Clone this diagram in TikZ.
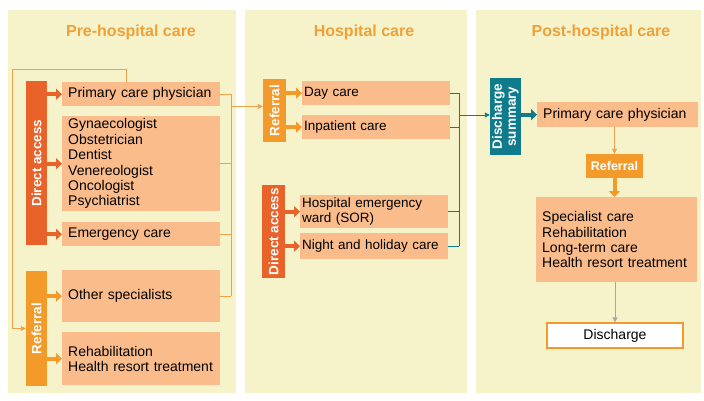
\documentclass[tikz,border=0pt]{standalone}
\usepackage{fontspec}
\setmainfont{Liberation Sans}
\usepackage{xcolor}
\usepackage{tikz}
\usetikzlibrary{arrows.meta}

\definecolor{panelfill}{HTML}{F6F3CB}
\definecolor{boxfill}{HTML}{FBBC8C}
\definecolor{titleorange}{HTML}{EFA139}
\definecolor{accessred}{HTML}{E8622A}
\definecolor{referorange}{HTML}{F39A2A}
\definecolor{summteal}{HTML}{0F7B8B}
\definecolor{linkorange}{HTML}{EDA24A}

\begin{document}
\begin{tikzpicture}[x=1pt,y=-1pt,
                    panel/.style={fill=panelfill},
                    title/.style={text=titleorange,font=\fontsize{16}{18}\selectfont\bfseries},
                    box/.style n args={2}{fill=boxfill,anchor=north west,
                    text width=#1,minimum height=#2,
                    inner xsep=6pt,inner ysep=0pt,align=left,
                    font=\fontsize{14}{15.4}\selectfont},
                    hbox/.style n args={2}{box={#1}{#2},inner xsep=2pt,
                    font=\fontsize{13.5}{14.5}\selectfont},
                    bar/.style n args={3}{fill=#1,text=white,rotate=90,
                    minimum width=#2,minimum height=#3,
                    inner sep=0pt,align=center,
                    font=\fontsize{13.5}{14}\selectfont\bfseries},
                    fat/.style={#1,line width=4pt,
                    -{Triangle[width=11pt,length=6pt]}},
                    link/.style={#1,line width=0.9pt}]
    \useasboundingbox (0,0) rectangle (704,400);

    % panels
    \fill[panel] (8,10) rectangle (236,393);
    \fill[panel] (245,10) rectangle (467,393);
    \fill[panel] (476,10) rectangle (701,393);
    \node[title](tpre) at (131,32) {Pre-hospital care};
    \node[title](thosp) at (364,32) {Hospital care};
    \node[title](tpost) at (601,32) {Post-hospital care};

    % pre-hospital care
    \node[bar={accessred}{164}{21}](dabar) at (36.5,163) {Direct access};
    \node[bar={referorange}{115}{21}](refbar) at (36.5,328.5) {Referral};
    \node[box={146pt}{24pt}](pcp) at (62,82) {Primary care physician};
    \node[box={146pt}{95pt}](spec) at (62,116) {Gynaecologist\\Obstetrician\\Dentist\\Venereologist\\Oncologist\\Psychiatrist};
    \node[box={146pt}{24pt}](emerg) at (62,222) {Emergency care};
    \node[box={146pt}{52pt}](other) at (62,270) {Other specialists};
    \node[box={146pt}{53pt}](rehab) at (62,332) {Rehabilitation\\Health resort treatment};
    \foreach \n in {pcp,spec,emerg}
        \draw[fat=accessred] (dabar.south |- \n.west) -- (\n.west);
    \foreach \n in {other,rehab}
        \draw[fat=referorange] (refbar.south |- \n.west) -- (\n.west);
    \coordinate (loop) at (12.5,69);
    \draw[link=linkorange,-{Triangle[width=5pt,length=5pt]}]
        ([xshift=-15pt]pcp.north) |- (loop) |- (refbar.north);
    \coordinate (brkpre) at (231,0);
    \foreach \n in {pcp,spec,emerg,other}
        \draw[link=linkorange] (\n.east) -- (\n.east -| brkpre);
    \draw[link=linkorange] (pcp.east -| brkpre) -- (other.east -| brkpre);

    % hospital care
    \node[bar={referorange}{63}{23}](hrefbar) at (274.5,110.5) {Referral};
    \node[bar={accessred}{93}{23}](hdabar) at (273.5,231.5) {Direct access};
    \node[hbox={144pt}{24pt}](day) at (302,81) {Day care};
    \node[hbox={144pt}{24pt}](inpat) at (302,115) {Inpatient care};
    \node[hbox={144pt}{33pt}](sor) at (300,195) {Hospital emergency\\ward (SOR)};
    \node[hbox={144pt}{26pt}](night) at (300,233) {Night and holiday care};
    \draw[link=linkorange,-{Triangle[width=5pt,length=5pt]}]
        (pcp.south -| brkpre) -- (pcp.south -| hrefbar.north);
    \foreach \n in {day,inpat}
        \draw[fat=referorange] (hrefbar.south |- \n.west) -- (\n.west);
    \foreach \n in {sor,night}
        \draw[fat=accessred] (hdabar.south |- \n.west) -- (\n.west);
    \coordinate (brkhosp) at (459,0);
    \foreach \n in {day,inpat,sor,night}
        \draw[link=summteal] (\n.east) -- (\n.east -| brkhosp);
    \draw[link=summteal] (day.east -| brkhosp) -- (night.east -| brkhosp);

    % post-hospital care
    \node[bar={summteal}{77}{31}](dsbar) at (505.5,116.5) {Discharge\\summary};
    \draw[link=summteal,-{Triangle[width=5pt,length=5pt]}]
        (inpat.north -| brkhosp) -- (inpat.north -| dsbar.north);
    \node[box={149pt}{25pt}](ppcp) at (537,102) {Primary care physician};
    \node[fill=referorange,text=white,minimum width=57pt,minimum height=24pt,
          inner sep=0pt,font=\fontsize{12.5}{14}\selectfont\bfseries](pref) at (614.5,166) {Referral};
    \node[box={149pt}{85pt}](pspec) at (536,197) {Specialist care\\Rehabilitation\\Long-term care\\Health resort treatment};
    \node[draw=referorange,line width=1.3pt,fill=white,minimum width=136pt,minimum height=25pt,
          inner sep=0pt,font=\fontsize{14}{15.4}\selectfont](disch) at (615,335.5) {Discharge};
    \draw[fat=summteal] (dsbar.south |- ppcp.west) -- (ppcp.west);
    \draw[link=linkorange,-{Triangle[width=5pt,length=5pt]}]
        (pref.north |- ppcp.south) -- (pref.north);
    \draw[fat=referorange] (pref.south) -- (pref.south |- pspec.north);
    \draw[link=gray!70,-{Triangle[width=5pt,length=5pt]}]
        (disch.north |- pspec.south) -- (disch.north);

\end{tikzpicture}
\end{document}
